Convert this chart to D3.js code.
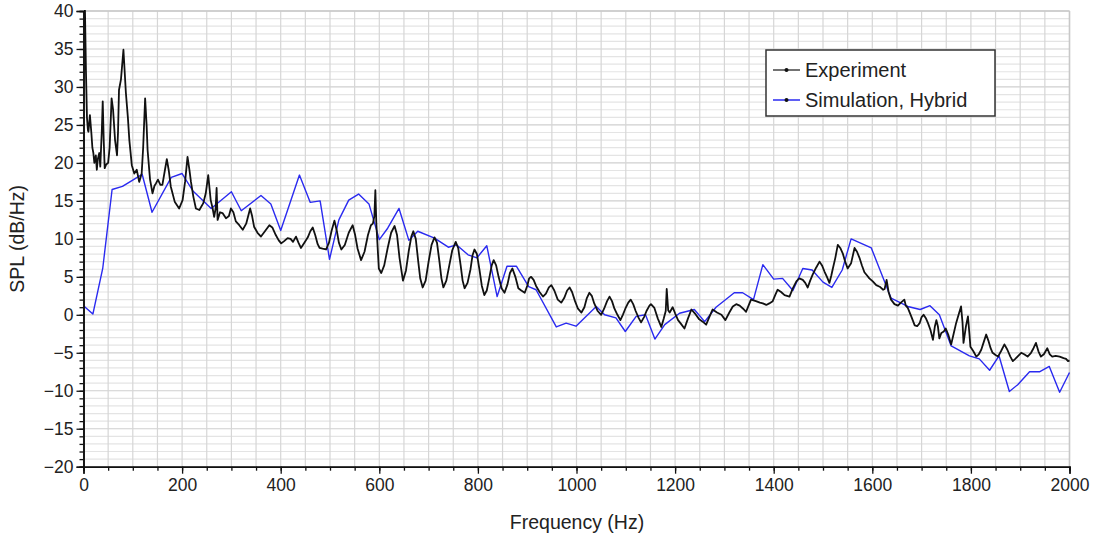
<!DOCTYPE html>
<html>
<head>
<meta charset="utf-8">
<script src="https://cdn.jsdelivr.net/npm/d3@7"></script>
<style>
  html, body { margin: 0; padding: 0; background: #fff; }
  svg { display: block; font-family: "Liberation Sans", Arial, sans-serif; }
</style>
</head>
<body>
<svg id="chart" width="1097" height="538"></svg>
<script>
// ---- Data ----
const xTickValues = [0, 200, 400, 600, 800, 1000, 1200, 1400, 1600, 1800, 2000];
const yTickValues = [-20, -15, -10, -5, 0, 5, 10, 15, 20, 25, 30, 35, 40];
const seriesNames = ["Experiment", "Simulation, Hybrid"];

const expFreq = [1,3,5,7,9,10,13,16,18,20,22,25,27,29,32,34,37,39,41,43,46,50,53,57,60,64,68,70,72,76,81,86,90,93,98,103,108,113,118,121,125,128,130,135,140,144,147,151,156,160,165,169,173,177,185,194,201,206,211,215,218,223,228,235,243,248,253,258,262,265,268,270,272,277,282,289,295,299,304,309,316,323,330,338,342,346,353,360,368,377,383,390,396,401,407,414,420,425,431,436,441,448,455,460,465,470,475,479,485,492,498,503,509,514,518,523,530,538,546,551,556,563,570,577,583,587,590,592,594,599,604,610,617,624,631,636,641,648,654,660,665,669,674,679,683,688,694,700,706,712,717,722,726,730,736,742,748,755,760,765,769,773,779,785,789,793,798,803,808,813,818,823,828,832,837,842,848,854,860,865,870,876,882,888,895,900,904,908,913,918,925,932,938,944,949,955,962,969,975,981,986,991,997,1003,1010,1016,1021,1026,1031,1036,1043,1050,1056,1062,1067,1072,1077,1083,1089,1094,1099,1105,1110,1115,1120,1126,1131,1137,1142,1148,1151,1158,1165,1172,1177,1181,1183,1186,1189,1195,1200,1206,1212,1219,1226,1233,1240,1249,1256,1263,1270,1276,1285,1294,1302,1310,1317,1324,1331,1338,1344,1349,1354,1359,1364,1372,1378,1385,1391,1398,1403,1408,1415,1422,1427,1432,1439,1446,1452,1459,1464,1469,1474,1479,1486,1493,1498,1503,1508,1513,1517,1520,1525,1530,1535,1540,1545,1550,1557,1564,1569,1574,1579,1584,1589,1594,1601,1608,1615,1622,1625,1629,1633,1638,1645,1652,1658,1665,1668,1672,1679,1686,1691,1696,1700,1704,1709,1713,1718,1723,1727,1730,1733,1736,1740,1745,1749,1754,1760,1765,1770,1775,1780,1783,1785,1790,1794,1797,1799,1805,1811,1816,1821,1826,1831,1836,1840,1844,1850,1855,1861,1868,1874,1880,1885,1890,1896,1902,1908,1915,1922,1927,1932,1937,1942,1948,1955,1960,1965,1972,1980,1988,1993,1997,2000];
const expSPL = [41,40,32,26,24.3,24.1,26.3,23.9,22,21.3,20,21.0,19.1,20.5,21.3,19.5,24,28.1,23,19.3,19.8,20.0,22,28.5,27,23.0,21.0,24,29.6,31,34.9,29.2,26,23.0,19.7,18.6,19.1,17.5,18.6,22,28.5,25,21.7,17.8,16.0,17,17.3,17.8,17.1,17.1,19,20.5,19,16.9,14.9,14.0,15.1,17.5,20.8,19,17.5,15.5,14.0,13.8,14.7,16,18.4,15.1,14,12.9,14,16.7,12.5,13.5,13.4,12.7,13,14.0,13.5,12.3,11.8,11.2,12,14.0,13,11.6,10.8,10.3,11,11.8,11.5,10.5,9.8,9.4,9.7,10.1,10.0,9.6,10.3,9.5,8.8,9.5,10.2,11,11.5,10.5,9.3,8.8,8.7,8.6,9.5,11,12.4,11,9.5,8.6,9.2,10.8,11.8,10.5,8.7,7.2,8.3,10.5,11.8,12.0,13,16.4,12,6.1,5.5,6.5,8.8,10.8,11.7,10.5,7.5,4.5,5.8,8.5,10.3,11.0,10,7,4.8,3.6,4.5,7,9.2,10.2,9.5,7,4.8,3.6,4.5,6.5,8.5,9.6,8.8,6.5,4.5,3.5,4.2,6,7.8,8.6,8,6,3.8,2.6,3.2,4.8,6.5,7.2,6.5,5,3.5,2.9,4,5.5,6.1,5,3.5,3.2,2.9,3.8,4.8,5.0,4.6,3.8,3,2.4,2.8,3.6,3.9,3.2,2,1.6,2.2,3.2,3.6,3,1.8,0.8,0.3,1,2.2,2.9,2.5,1.5,0.5,0,0.8,1.8,2.4,1.8,0.8,0,-0.7,0,0.8,1.6,2.0,1.4,0.5,-0.4,-1.0,-0.3,0.5,1.2,1.4,0.9,-0.5,-1.6,-0.5,0.5,3.4,0.6,0.3,1.0,0.2,-0.7,-1.2,-1.8,-0.5,0.7,0.2,-0.6,-0.9,-1.3,-0.2,0.7,0.3,0,-0.7,0.3,1.1,1.4,1.2,0.8,0.4,1.2,2.0,1.9,1.8,1.6,1.5,1.3,1.5,1.8,2.6,3.3,3.0,2.6,2.5,2.4,3.5,4.4,4.8,4.6,4.2,3.6,4.5,5.3,6.2,7.0,6.5,5.7,5.0,4.2,5.2,6.1,7.5,9.2,8.8,8.1,7,6.1,6.8,8.8,8.3,7.5,6.5,5.6,5.2,4.8,4.4,3.9,3.7,3.3,3.4,4.6,3,2.0,1.4,1.2,1.6,2.0,1.2,0.9,-0.2,-1.4,-1.5,-1.1,-0.3,0,-0.5,-1.1,-2,-3.3,-1.5,-0.7,-1.5,-3.1,-2.4,-2.2,-1.8,-2.6,-3.9,-2.5,-1.1,0,1.1,-1,-3.7,-1.5,-0.2,-2.5,-4.2,-4.8,-5.5,-5.2,-4.6,-3.6,-2.6,-3.5,-4.4,-5.0,-5.3,-5.5,-4.8,-3.9,-4.6,-5.5,-6.1,-5.8,-5.4,-5.0,-5.2,-5.5,-5.0,-4.4,-3.7,-4.8,-5.5,-5.2,-4.4,-5.2,-5.5,-5.4,-5.5,-5.7,-5.8,-6.1,-6.0];

const simFreq = [0,19,39,58,79,119,139,178,200,222,259,300,320,360,380,400,438,460,480,499,518,538,558,579,600,617,640,660,678,712,740,757,780,798,818,839,859,878,903,918,959,979,999,1040,1057,1080,1099,1121,1140,1159,1179,1209,1239,1260,1283,1320,1337,1359,1378,1400,1418,1439,1459,1478,1500,1518,1539,1557,1598,1638,1672,1697,1717,1736,1760,1797,1817,1838,1857,1878,1895,1919,1939,1959,1980,2000];
const simSPL = [1.2,0.1,6.1,16.5,16.9,18.5,13.5,18.1,18.6,16.3,14.0,16.2,13.7,15.7,14.6,11.1,18.4,14.8,15.0,7.3,12.5,15.1,15.9,14.6,9.9,11.4,14.0,9.8,11.0,10.1,8.9,9.2,7.9,7.5,9.1,2.4,6.4,6.4,3.7,3.3,-1.6,-1.1,-1.5,1.1,0,-0.4,-2.2,-0.2,0,-3.2,-1.3,0.2,0.7,-0.9,1.0,2.9,2.9,2.0,6.6,4.7,4.8,3.2,6.1,5.9,4.3,3.6,5.9,10.0,8.8,2.2,1.1,0.7,1.2,0,-4.1,-5.4,-5.8,-7.3,-5.4,-10.1,-9.2,-7.5,-7.5,-6.8,-10.2,-7.6];

// ---- Layout ----
const svg = d3.select("#chart");
const mLeft = 83.5, mRight = 1069.5, mTop = 11, mBottom = 466.7;

const x = d3.scaleLinear().domain([0, 2000]).range([mLeft, mRight]);
const y = d3.scaleLinear().domain([-20, 40]).range([mBottom, mTop]);

// Grid
const grid = svg.append("g");
d3.range(-20, 41, 1).forEach(v => {
  grid.append("line")
    .attr("x1", mLeft).attr("x2", mRight)
    .attr("y1", y(v)).attr("y2", y(v))
    .attr("stroke", v % 5 === 0 ? "#cfcfcf" : "#e4e4e4")
    .attr("stroke-width", 1.2);
});
d3.range(0, 2001, 50).forEach(f => {
  grid.append("line")
    .attr("x1", x(f)).attr("x2", x(f))
    .attr("y1", mTop).attr("y2", mBottom)
    .attr("stroke", "#d6d6d6")
    .attr("stroke-width", 1.2);
});
// frame top & right
svg.append("line").attr("x1", mLeft).attr("x2", mRight).attr("y1", mTop).attr("y2", mTop)
  .attr("stroke", "#c8c8c8").attr("stroke-width", 1.5);
svg.append("line").attr("x1", mRight).attr("x2", mRight).attr("y1", mTop).attr("y2", mBottom)
  .attr("stroke", "#c8c8c8").attr("stroke-width", 1.5);

// Clip
svg.append("clipPath").attr("id", "clip").append("rect")
  .attr("x", mLeft).attr("y", mTop - 1).attr("width", mRight - mLeft + 4).attr("height", mBottom - mTop + 1);

const line = d3.line().x(d => x(d[0])).y(d => y(d[1]));

const simData = simFreq.map((f, i) => [f, simSPL[i]]);
const expData = expFreq.map((f, i) => [f, expSPL[i]]).filter(d => d[1] !== undefined);

svg.append("path").datum(simData)
  .attr("clip-path", "url(#clip)")
  .attr("d", line).attr("fill", "none")
  .attr("stroke", "#2a2af0").attr("stroke-width", 1.4).attr("stroke-linejoin", "round");

svg.append("path").datum(expData)
  .attr("clip-path", "url(#clip)")
  .attr("d", line).attr("fill", "none")
  .attr("stroke", "#111").attr("stroke-width", 1.8).attr("stroke-linejoin", "round");

// Axes
const xAxisMinor = d3.axisBottom(x).tickValues(d3.range(0, 2001, 50)).tickSize(4).tickFormat("");
const xAxis = d3.axisBottom(x).tickValues(xTickValues).tickSize(7).tickPadding(5).tickFormat(d3.format("d"));
const yAxisMinor = d3.axisLeft(y).tickValues(d3.range(-20, 41, 1)).tickSize(4).tickFormat("");
const yAxis = d3.axisLeft(y).tickValues(yTickValues).tickSize(7).tickPadding(3).tickFormat(d3.format("d"));

function styleAxis(g) {
  g.selectAll("path.domain").attr("stroke", "#111").attr("stroke-width", 1.6);
  g.selectAll(".tick line").attr("stroke", "#111").attr("stroke-width", 1.3);
  g.selectAll(".tick text").attr("fill", "#222").style("font-size", "17.5px")
    .style("font-family", "'Liberation Sans', Arial, sans-serif");
}
svg.append("g").attr("transform", `translate(0,${mBottom})`).call(xAxisMinor).call(styleAxis);
svg.append("g").attr("transform", `translate(0,${mBottom})`).call(xAxis).call(styleAxis);
svg.append("g").attr("transform", `translate(${mLeft},0)`).call(yAxisMinor).call(styleAxis);
svg.append("g").attr("transform", `translate(${mLeft},0)`).call(yAxis).call(styleAxis);

// Axis titles
svg.append("text").attr("x", (mLeft + mRight) / 2 + 0.5).attr("y", 529)
  .attr("text-anchor", "middle").attr("fill", "#222").style("font-size", "19.5px")
  .text("Frequency (Hz)");
svg.append("text").attr("transform", `translate(24,${(mTop + mBottom) / 2}) rotate(-90)`)
  .attr("text-anchor", "middle").attr("fill", "#222").style("font-size", "19.5px")
  .text("SPL (dB/Hz)");

// Legend
const legend = svg.append("g");
legend.append("rect").attr("x", 766).attr("y", 50).attr("width", 229).attr("height", 66)
  .attr("fill", "#fff").attr("stroke", "#333").attr("stroke-width", 1.5);
const legendColors = ["#444", "#2a2af0"];
seriesNames.forEach((name, i) => {
  const ly = 70 + i * 30;
  legend.append("line").attr("x1", 773).attr("x2", 800).attr("y1", ly).attr("y2", ly)
    .attr("stroke", legendColors[i]).attr("stroke-width", 1.5);
  legend.append("circle").attr("cx", 786.5).attr("cy", ly).attr("r", 2).attr("fill", "#111");
  legend.append("text").attr("x", 805).attr("y", ly + 7)
    .attr("fill", "#222").style("font-size", "20px").text(name);
});
</script>
</body>
</html>
